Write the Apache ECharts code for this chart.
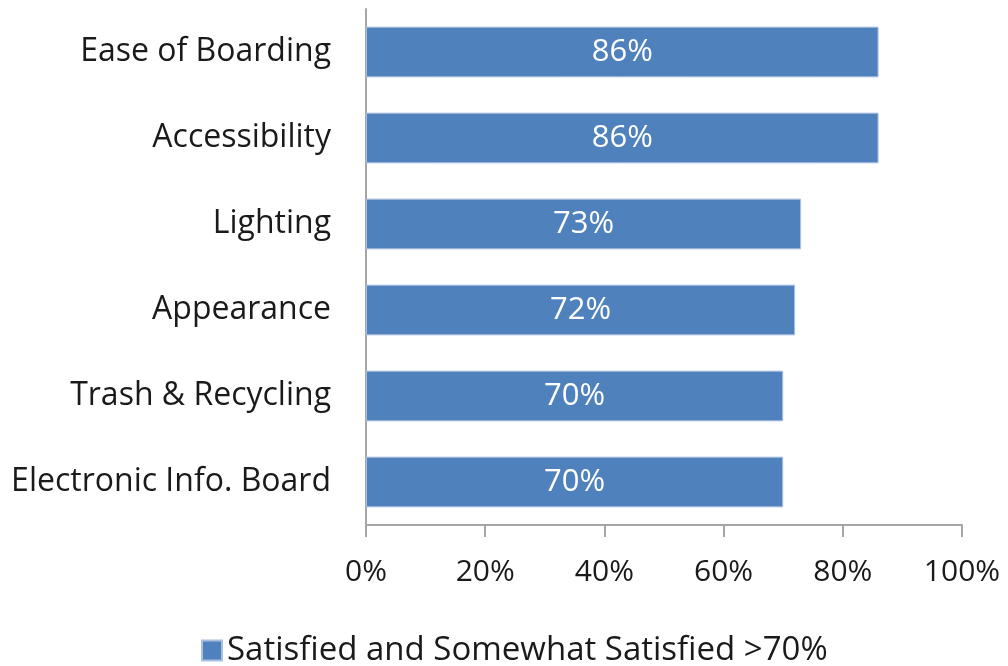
<!DOCTYPE html>
<html>
<head>
<meta charset="utf-8">
<style>
  html, body { margin: 0; padding: 0; background: #ffffff; }
  #chart { width: 1008px; height: 666px; }
</style>
<script src="https://cdn.jsdelivr.net/npm/echarts@6/dist/echarts.min.js"></script>
</head>
<body>
<div id="chart"></div>
<script>
// Satisfaction ratings, listed bottom-to-top for the category axis
const categories = [
  'Electronic Info. Board',
  'Trash & Recycling',
  'Appearance',
  'Lighting',
  'Accessibility',
  'Ease of Boarding'
];
const satisfied = [70, 70, 72, 73, 86, 86];
const xTicks = [0, 20, 40, 60, 80, 100];
const seriesName = 'Satisfied and Somewhat Satisfied >70%';

const FONT = '"Open Sans", "DejaVu Sans", sans-serif';
const chart = echarts.init(document.getElementById('chart'));

chart.setOption({
  animation: false,
  textStyle: { fontFamily: FONT },
  grid: { left: 366, right: 46, top: 9, bottom: 141, containLabel: false },
  legend: {
    data: [seriesName],
    top: 629,
    left: 196,
    itemWidth: 20,
    itemHeight: 20,
    itemGap: 10,
    icon: 'rect',
    textStyle: { fontSize: 33, color: '#1a1a1a', fontFamily: FONT, padding: [0, 0, 0, 0] }
  },
  xAxis: {
    type: 'value',
    min: xTicks[0],
    max: xTicks[xTicks.length - 1],
    interval: 20,
    axisLine: { show: true, lineStyle: { color: '#a6a6a6', width: 2 } },
    axisTick: { show: true, length: 12, lineStyle: { color: '#a6a6a6', width: 2 } },
    splitLine: { show: false },
    axisLabel: {
      fontSize: 30,
      color: '#1a1a1a',
      margin: 32,
      formatter: v => v + '%'
    }
  },
  yAxis: {
    type: 'category',
    data: categories,
    axisLine: { show: true, lineStyle: { color: '#a6a6a6', width: 2 } },
    axisTick: { show: false },
    axisLabel: { fontSize: 32, color: '#1a1a1a', margin: 35 }
  },
  series: [{
    name: seriesName,
    type: 'bar',
    data: satisfied,
    barWidth: '59%',
    itemStyle: {
      color: '#4f81bd',
      borderColor: '#a9c1e0',
      borderWidth: 1
    },
    label: {
      show: true,
      position: 'inside',
      color: '#ffffff',
      fontSize: 31,
      fontFamily: FONT,
      formatter: p => p.value + '%'
    }
  }]
});
</script>
</body>
</html>
